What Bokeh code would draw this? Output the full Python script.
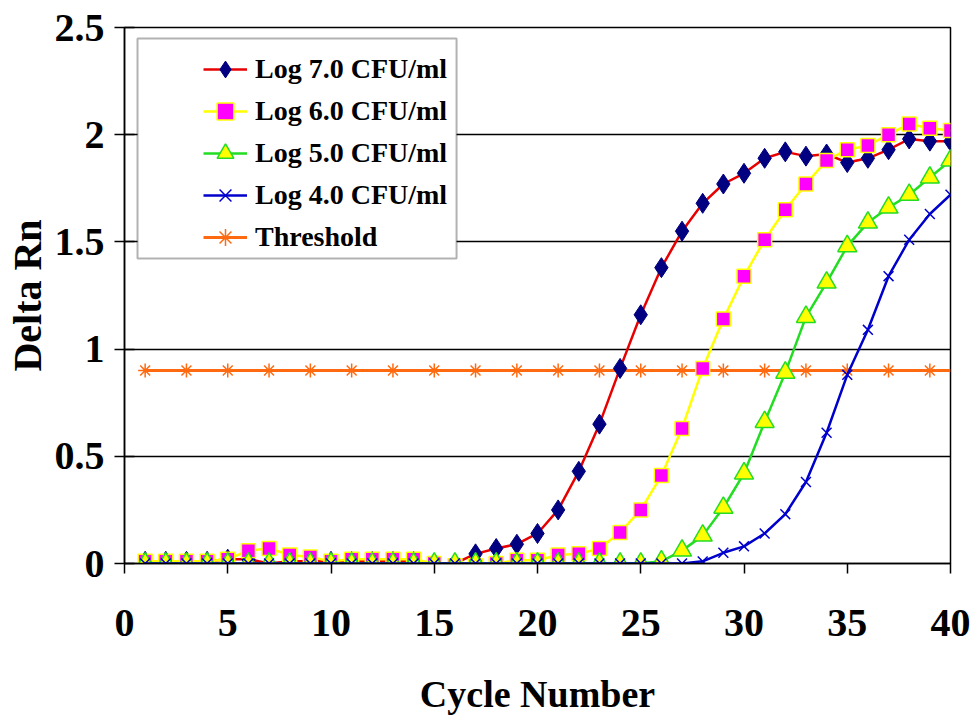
from bokeh.plotting import figure
from bokeh.models import Legend, LegendItem, FixedTicker, BoxAnnotation, Range1d
from bokeh.embed import file_html
from bokeh.resources import INLINE

# ---------------- data ----------------
cycles = list(range(1, 41))

log7 = [0.01, 0.01, 0.01, 0.01, 0.02, 0.02, 0.00, 0.01, 0.01, 0.01,
        0.01, 0.01, 0.01, 0.01, 0.00, 0.00, 0.045, 0.07, 0.09, 0.14,
        0.25, 0.43, 0.65, 0.91, 1.16, 1.38, 1.55, 1.68, 1.77, 1.82,
        1.89, 1.92, 1.90, 1.91, 1.87, 1.89, 1.93, 1.98, 1.97, 1.97]

log6 = [0.01, 0.01, 0.01, 0.01, 0.02, 0.06, 0.07, 0.04, 0.03, 0.01,
        0.02, 0.02, 0.02, 0.02, 0.00, -0.01, -0.01, 0.00, 0.015, 0.015,
        0.04, 0.045, 0.07, 0.145, 0.25, 0.41, 0.63, 0.91, 1.14, 1.34,
        1.51, 1.65, 1.77, 1.88, 1.93, 1.95, 2.00, 2.05, 2.03, 2.02]

log5 = [0.00, 0.00, 0.00, 0.00, 0.00, 0.00, 0.00, 0.00, 0.00, 0.00,
        0.00, 0.00, 0.00, 0.00, 0.00, 0.00, 0.00, 0.00, 0.00, 0.00,
        0.00, 0.00, 0.00, 0.00, 0.00, 0.01, 0.06, 0.13, 0.26, 0.42,
        0.66, 0.89, 1.15, 1.31, 1.48, 1.59, 1.66, 1.72, 1.80, 1.88]

log4 = [0.00, 0.00, 0.00, 0.00, 0.00, 0.00, 0.00, 0.00, 0.00, 0.00,
        0.00, 0.00, 0.00, 0.00, 0.00, 0.00, 0.00, 0.00, 0.00, 0.00,
        0.00, 0.00, 0.00, 0.00, 0.00, 0.00, 0.00, 0.01, 0.05, 0.08,
        0.14, 0.23, 0.38, 0.61, 0.88, 1.09, 1.34, 1.51, 1.63, 1.72]

threshold_line_cycles = [1, 40]
threshold_line_values = [0.9, 0.9]
threshold_marker_cycles = [1, 3, 5, 7, 9, 11, 13, 15, 17, 19,
                           21, 23, 25, 27, 29, 31, 33, 35, 37, 39]
threshold_marker_values = [0.9, 0.9, 0.9, 0.9, 0.9, 0.9, 0.9, 0.9, 0.9, 0.9,
                           0.9, 0.9, 0.9, 0.9, 0.9, 0.9, 0.9, 0.9, 0.9, 0.9]

series_labels = ["Log 7.0 CFU/ml", "Log 6.0 CFU/ml", "Log 5.0 CFU/ml",
                 "Log 4.0 CFU/ml", "Threshold"]

x_ticks = [0, 5, 10, 15, 20, 25, 30, 35, 40]
y_ticks = [0, 0.5, 1, 1.5, 2, 2.5]
y_tick_labels = ["0", "0.5", "1", "1.5", "2", "2.5"]

x_title = "Cycle Number"
y_title = "Delta Rn"

# ---------------- figure ----------------
FONT = "Liberation Serif"

p = figure(width=976, height=725,
           x_range=Range1d(0, 40), y_range=Range1d(0, 2.5),
           output_backend="svg", toolbar_location=None,
           min_border_left=124, min_border_right=26,
           min_border_top=27, min_border_bottom=162)

p.background_fill_color = "white"
p.border_fill_color = "white"
p.outline_line_color = "black"
p.outline_line_width = 1.5

p.xgrid.visible = False
p.ygrid.ticker = FixedTicker(ticks=y_ticks)
p.ygrid.grid_line_color = "black"
p.ygrid.grid_line_width = 1.5

for ax in (p.xaxis[0], p.yaxis[0]):
    ax.axis_line_color = "black"
    ax.axis_line_width = 1.5
    ax.major_tick_line_color = "black"
    ax.major_tick_line_width = 1.5
    ax.minor_tick_line_color = None
    ax.major_label_text_font = FONT
    ax.major_label_text_font_style = "bold"
    ax.major_label_text_color = "black"
    ax.axis_label_text_font = FONT
    ax.axis_label_text_font_style = "bold"
    ax.axis_label_text_color = "black"

p.xaxis.ticker = FixedTicker(ticks=x_ticks)
p.xaxis.major_tick_in = 0
p.xaxis.major_tick_out = 10
p.xaxis.major_label_text_font_size = "40px"
p.xaxis.major_label_standoff = 36
p.xaxis.axis_label = x_title
p.xaxis.axis_label_text_font_size = "38px"
p.xaxis.axis_label_standoff = 34

p.yaxis.ticker = FixedTicker(ticks=y_ticks)
p.yaxis.major_label_overrides = {t: s for t, s in zip(y_ticks, y_tick_labels)}
p.yaxis.major_tick_in = 10
p.yaxis.major_tick_out = 10
p.yaxis.major_label_text_font_size = "40px"
p.yaxis.major_label_standoff = 10
p.yaxis.axis_label = y_title
p.yaxis.axis_label_text_font_size = "40px"
p.yaxis.axis_label_standoff = 2

# ---------------- series ----------------
thr_line = p.line(threshold_line_cycles, threshold_line_values,
                  line_color="#FF6A10", line_width=3)
thr_mark = p.scatter(threshold_marker_cycles, threshold_marker_values,
                     marker="asterisk", size=14, line_color="#FF6A10",
                     line_width=1.5)

l7_line = p.line(cycles, log7, line_color="#E80000", line_width=2.5)
l7_mark = p.scatter(cycles, log7, marker="diamond", size=20,
                    fill_color="#000080", line_color="#000080", line_width=1)

l6_line = p.line(cycles, log6, line_color="#FFFF00", line_width=2.5)
l6_mark = p.scatter(cycles, log6, marker="square", size=14,
                    fill_color="#FF00FF", line_color="#FFFF00", line_width=1.5)

l5_line = p.line(cycles, log5, line_color="#22DD22", line_width=2.5)
l5_mark = p.scatter(cycles, log5, marker="triangle", size=19,
                    fill_color="#FFFF00", line_color="#22DD22", line_width=1.5)

l4_line = p.line(cycles, log4, line_color="#0000CC", line_width=2.5)
l4_mark = p.scatter(cycles, log4, marker="x", size=14,
                    line_color="#0000CC", line_width=1.5)

# ---------------- legend ----------------
legend_box = BoxAnnotation(left=0.63, right=16.08, top=2.449, bottom=1.423,
                           fill_color="white", fill_alpha=1.0,
                           line_color="black", line_width=2)
p.add_layout(legend_box)

items = [
    LegendItem(label=series_labels[0], renderers=[l7_line, l7_mark]),
    LegendItem(label=series_labels[1], renderers=[l6_line, l6_mark]),
    LegendItem(label=series_labels[2], renderers=[l5_line, l5_mark]),
    LegendItem(label=series_labels[3], renderers=[l4_line, l4_mark]),
    LegendItem(label=series_labels[4], renderers=[thr_line, thr_mark]),
]
legend = Legend(items=items, location=(79, 305),
                padding=0, spacing=0, margin=0,
                glyph_width=44, glyph_height=42, label_height=42,
                label_standoff=8,
                label_text_font=FONT, label_text_font_style="bold",
                label_text_font_size="28px", label_text_color="black",
                border_line_alpha=0, background_fill_alpha=0)
p.add_layout(legend)

open("out.html", "w").write(file_html(p, INLINE))
